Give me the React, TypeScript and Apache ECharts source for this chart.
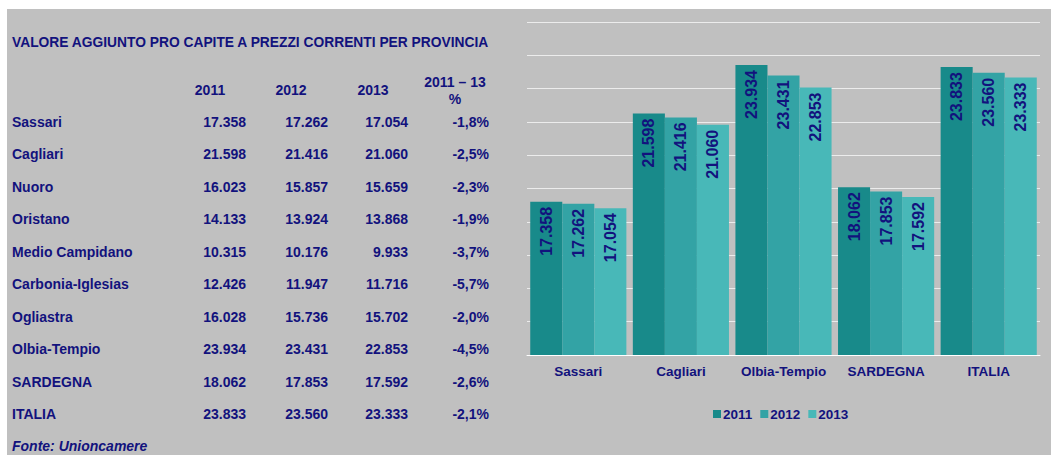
import React, { useEffect, useRef } from "react";
import * as echarts from "echarts";

const title = "VALORE AGGIUNTO PRO CAPITE A PREZZI CORRENTI PER PROVINCIA";
const tableHeaders = ["2011", "2012", "2013"];
const changeHeader = ["2011 – 13", "%"];
const provinces = [
  "Sassari",
  "Cagliari",
  "Nuoro",
  "Oristano",
  "Medio Campidano",
  "Carbonia-Iglesias",
  "Ogliastra",
  "Olbia-Tempio",
  "SARDEGNA",
  "ITALIA",
];
const values2011 = [17358, 21598, 16023, 14133, 10315, 12426, 16028, 23934, 18062, 23833];
const values2012 = [17262, 21416, 15857, 13924, 10176, 11947, 15736, 23431, 17853, 23560];
const values2013 = [17054, 21060, 15659, 13868, 9933, 11716, 15702, 22853, 17592, 23333];
const changePct = ["-1,8%", "-2,5%", "-2,3%", "-1,9%", "-3,7%", "-5,7%", "-2,0%", "-4,5%", "-2,6%", "-2,1%"];
const source = "Fonte: Unioncamere";

const chartCategories = ["Sassari", "Cagliari", "Olbia-Tempio", "SARDEGNA", "ITALIA"];
const seriesNames = ["2011", "2012", "2013"];
const seriesColors = ["#188a8a", "#33a3a5", "#48b8b8"];

const TEXT = "#12127d";
const FONT = "'Liberation Sans', Arial, sans-serif";

function fmt(v: number): string {
  const s = String(Math.round(v));
  return s.replace(/\B(?=(\d{3})+(?!\d))/g, ".");
}

export default function App() {
  const ref = useRef<HTMLDivElement>(null);

  useEffect(() => {
    if (!ref.current) return;
    const chart = echarts.init(ref.current, null, { renderer: "svg" });
    const OX = 7;
    const OY = 9;

    const allSeries = [values2011, values2012, values2013];
    const chartData = allSeries.map((arr) =>
      chartCategories.map((c) => arr[provinces.indexOf(c)])
    );

    const graphics: any[] = [];
    const txt = (text: string, x: number, y: number, align: string, extra: any = {}) => {
      graphics.push({
        type: "text",
        x: x - OX,
        y: y - OY,
        silent: true,
        style: {
          text,
          fill: TEXT,
          font: `bold 14px ${FONT}`,
          textAlign: align,
          textVerticalAlign: "middle",
          ...extra,
        },
      });
    };

    txt(title, 12, 42, "left", { font: `bold 13.8px ${FONT}` });
    const colX = [210, 291, 373];
    tableHeaders.forEach((h, i) => txt(h, colX[i], 90, "center"));
    txt(changeHeader[0], 455, 82, "center");
    txt(changeHeader[1], 455, 99, "center");
    const numRight = [246, 328, 408];
    provinces.forEach((p, r) => {
      const y = 121.7 + r * 32.5;
      txt(p, 12, y, "left");
      allSeries.forEach((arr, c) => txt(fmt(arr[r]), numRight[c], y, "right"));
      txt(changePct[r], 489, y, "right");
    });
    txt(source, 12, 446, "left", { font: `italic bold 14px ${FONT}` });

    chart.setOption({
      animation: false,
      backgroundColor: "#c0c0c0",
      textStyle: { fontFamily: FONT },
      grid: { left: 527 - OX, right: 11, top: 22 - OY, bottom: 100 },
      legend: {
        data: seriesNames,
        left: 708 - OX,
        top: 410 - OY - 8,
        itemWidth: 8,
        itemHeight: 8,
        itemGap: 8,
        icon: "rect",
        textStyle: { color: TEXT, fontWeight: "bold", fontSize: 13.5, fontFamily: FONT, padding: [0, 0, 0, -3] },
      },
      xAxis: {
        type: "category",
        data: chartCategories,
        axisLine: { show: true, lineStyle: { color: "#ffffff", width: 1 } },
        axisTick: { show: false },
        axisLabel: { color: TEXT, fontWeight: "bold", fontSize: 13.5, fontFamily: FONT, margin: 9, interval: 0 },
      },
      yAxis: {
        type: "value",
        min: 10000,
        max: 26000,
        interval: 1600,
        axisLabel: { show: false },
        axisLine: { show: false },
        axisTick: { show: false },
        splitLine: { show: true, lineStyle: { color: "#ececec", width: 1.2 } },
      },
      graphic: graphics,
      series: seriesNames.map((name, i) => ({
        name,
        type: "bar",
        data: chartData[i],
        barGap: "0%",
        barCategoryGap: "6.3%",
        itemStyle: { color: seriesColors[i] },
        label: {
          show: true,
          position: "insideTop",
          rotate: 90,
          align: "right",
          verticalAlign: "middle",
          distance: 5,
          color: TEXT,
          fontWeight: "bold",
          fontSize: 16,
          fontFamily: FONT,
          formatter: (p: any) => fmt(p.value),
        },
      })),
    });

    return () => chart.dispose();
  }, []);

  return (
    <div style={{ position: "fixed", left: 0, top: 0, width: 1051, height: 455, background: "#ffffff" }}>
      <div ref={ref} style={{ position: "absolute", left: 7, top: 9, width: 1044, height: 446 }} />
    </div>
  );
}
